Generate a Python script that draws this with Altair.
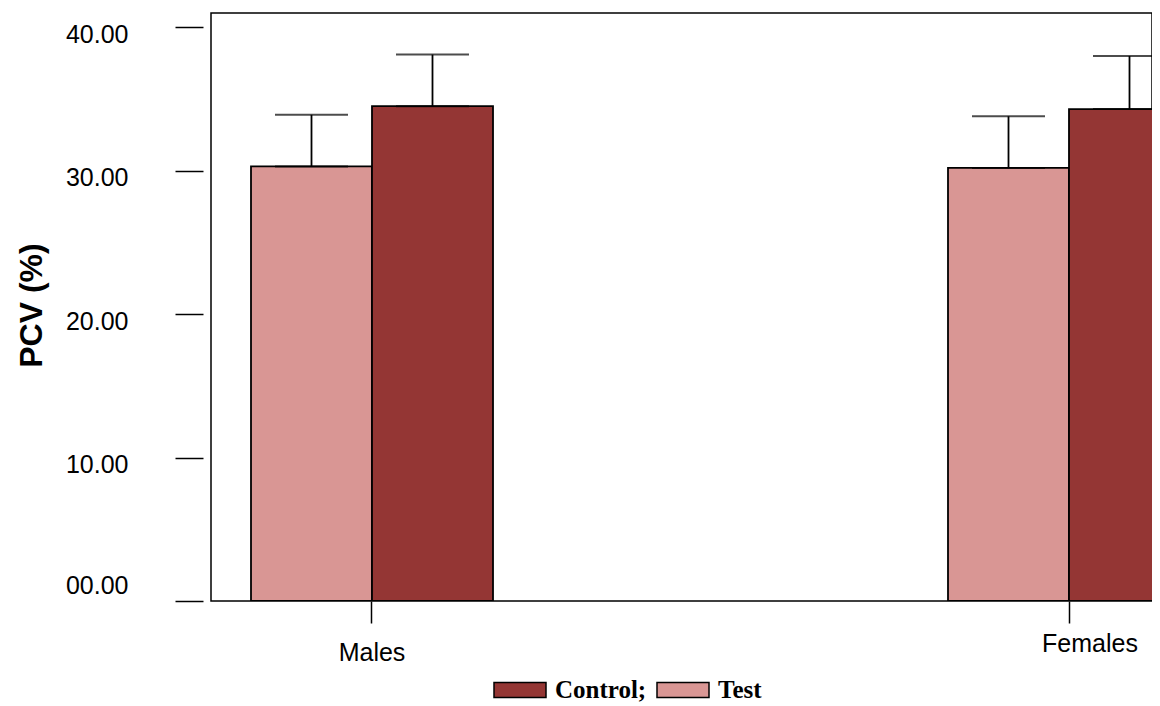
import altair as alt
import pandas as pd

groups = ["Males", "Males", "Females", "Females"]
treatments = ["Test", "Control", "Test", "Control"]
means = [30.3, 34.5, 30.2, 34.3]
uppers = [33.9, 38.1, 33.8, 38.0]
y_ticks = [0, 10, 20, 30, 40]
group_order = ["Males", "Females"]
series_order = ["Control", "Test"]
offset_order = ["Test", "Control"]
colors = ["#943634", "#d99694"]

df = pd.DataFrame({"group": groups, "treatment": treatments,
                   "mean": means, "upper": uppers})

x_axis = alt.Axis(
    title=None, domain=False, tickSize=22, tickWidth=1.5, tickColor="black",
    labelFont="Liberation Sans", labelFontSize=25, labelColor="black",
    labelAngle=0, labelBaseline="top",
    labelPadding={"condition": {"test": "datum.value == 'Females'", "value": 8}, "value": 17},
    labelOffset={"condition": {"test": "datum.value == 'Females'", "value": 21}, "value": 0},
)
x_enc = alt.X("group:N", sort=group_order,
              scale=alt.Scale(domain=group_order, range=[40, 979],
                              paddingInner=0.6528, paddingOuter=0),
              axis=x_axis)
xo_enc = alt.XOffset("treatment:N", sort=offset_order,
                     scale=alt.Scale(domain=offset_order, paddingInner=0, paddingOuter=0))

y_axis = alt.Axis(
    values=y_ticks, orient="left", offset=8, domain=False, grid=False,
    tickSize=28, tickWidth=1.5, tickColor="black",
    labelExpr="datum.value == 0 ? '00.00' : format(datum.value, '.2f')",
    labelFont="Liberation Sans", labelFontSize=25, labelColor="black",
    labelPadding=47,
    labelOffset={"condition": {"test": "datum.value == 0", "value": -16}, "value": 7},
    title="PCV (%)", titleFont="Liberation Sans", titleFontSize=32,
    titleFontWeight="bold", titleColor="black", titleBaseline="alphabetic",
    titleX=-162, titleY=292, titleAngle=270,
)
y_scale = alt.Scale(domain=[0, 41], nice=False, zero=True)

fill_enc = alt.Fill(
    "treatment:N",
    scale=alt.Scale(domain=series_order, range=colors),
    legend=alt.Legend(
        title=None, orient="none", legendX=282, legendY=650,
        direction="horizontal",
        symbolType="M-1,-0.288H1V0.288H-1Z", symbolSize=2704,
        symbolStrokeColor="black", symbolStrokeWidth=1.5, symbolOpacity=1,
        labelFont="Liberation Serif", labelFontSize=25, labelFontWeight="bold",
        labelColor="black", labelOffset=8, columnPadding=7,
        labelExpr="datum.label == 'Control' ? 'Control;' : ' ' + datum.label",
    ),
)

base = alt.Chart(df)

bars = base.mark_bar(stroke="black", strokeWidth=1.8, clip=True).encode(
    x=x_enc, xOffset=xo_enc,
    y=alt.Y("mean:Q", scale=y_scale, axis=y_axis),
    fill=fill_enc,
)
rules = base.mark_rule(color="black", strokeWidth=1.8).encode(
    x=x_enc, xOffset=xo_enc,
    y=alt.Y("mean:Q", scale=y_scale, axis=y_axis),
    y2="upper:Q",
)
caps_top = base.mark_tick(color="black", thickness=2, size=73).encode(
    x=x_enc, xOffset=xo_enc,
    y=alt.Y("upper:Q", scale=y_scale, axis=y_axis),
)
caps_bot = base.mark_tick(color="black", thickness=2, size=73).encode(
    x=x_enc, xOffset=xo_enc,
    y=alt.Y("mean:Q", scale=y_scale, axis=y_axis),
)

chart = alt.layer(bars, rules, caps_top, caps_bot).properties(
    width=941, height=588,
    padding={"left": 203, "top": 5, "right": 0, "bottom": 105},
    autosize=alt.AutoSizeParams(type="none"),
).configure_view(stroke="black", strokeWidth=1.5).configure_axis(grid=False)

chart.save("out.html", embed_options={"renderer": "svg", "actions": False})
